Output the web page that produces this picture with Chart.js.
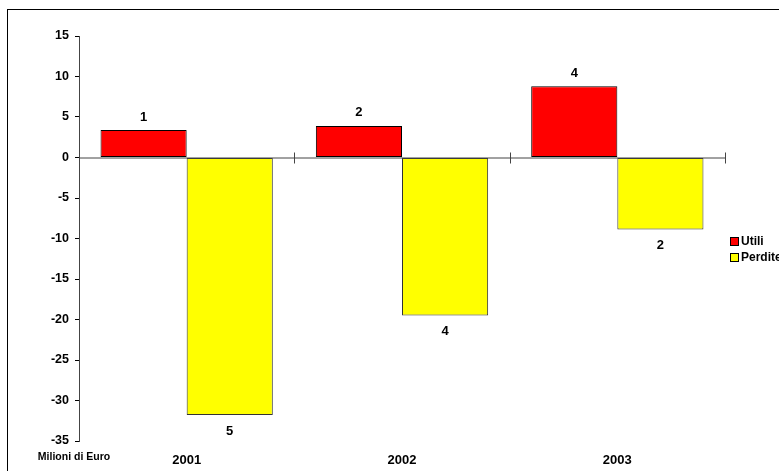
<!DOCTYPE html>
<html>
<head>
<meta charset="utf-8">
<script src="https://cdn.jsdelivr.net/npm/chart.js@4"></script>
<style>
    body { margin: 0; background: #fff; }
    #wrap { position: relative; width: 779px; height: 471px; overflow: hidden; }
    #frame { position: absolute; left: 7px; top: 9px; width: 800px; height: 500px; border: 1px solid #000; }
    canvas { position: absolute; left: 0; top: 0; }
</style>
</head>
<body>
<div id="wrap">
    <div id="frame"></div>
    <canvas id="chart" width="779" height="471"></canvas>
</div>
<script>
const Years = ['2001', '2002', '2003'];
const Utili = [3.4, 3.9, 8.8];
const Perdite = [-31.8, -19.5, -8.9];
// numbers printed over / under the bars
const UtiliLabels = ['1', '2', '4'];
const PerditeLabels = ['5', '4', '2'];
const YTicks = [15, 10, 5, 0, -5, -10, -15, -20, -25, -30, -35];

const FONT = 'Liberation Sans, Arial, sans-serif';

// axis line at zero, value labels, legend and unit caption
const extras = {
    id: 'extras',
    afterDatasetsDraw(chart) {
        const ctx = chart.ctx;
        const area = chart.chartArea;
        const y = chart.scales.y;
        const y0 = y.getPixelForValue(0);

        ctx.save();
        ctx.strokeStyle = '#444';
        ctx.lineWidth = 1;
        ctx.beginPath();
        ctx.moveTo(area.left, y0 + 0.5);
        ctx.lineTo(area.right, y0 + 0.5);
        const step = (area.right - area.left) / Years.length;
        for (let i = 0; i <= Years.length; i++) {
            const px = Math.round(area.left + i * step) + 0.5;
            ctx.moveTo(px, y0 - 5);
            ctx.lineTo(px, y0 + 6);
        }
        ctx.stroke();

        ctx.font = 'bold 13px ' + FONT;
        ctx.fillStyle = '#000';
        ctx.textAlign = 'center';
        ctx.textBaseline = 'middle';
        chart.getDatasetMeta(0).data.forEach((bar, i) => {
            ctx.fillText(UtiliLabels[i], bar.x, bar.y - 13);
        });
        chart.getDatasetMeta(1).data.forEach((bar, i) => {
            ctx.fillText(PerditeLabels[i], bar.x, bar.y + 16);
        });

        // legend
        ctx.font = 'bold 12px ' + FONT;
        ctx.textAlign = 'left';
        chart.data.datasets.forEach((ds, i) => {
            const ly = 241 + i * 16;
            ctx.fillStyle = ds.backgroundColor;
            ctx.fillRect(730, ly - 4, 9, 9);
            ctx.strokeStyle = '#000';
            ctx.strokeRect(730.5, ly - 3.5, 8, 8);
            ctx.fillStyle = '#000';
            ctx.fillText(ds.label, 741, ly + 1);
        });

        ctx.font = 'bold 10.5px ' + FONT;
        ctx.textAlign = 'center';
        ctx.fillText('Milioni di Euro', 74, 457);
        ctx.restore();
    }
};

new Chart(document.getElementById('chart'), {
    type: 'bar',
    data: {
        labels: Years,
        datasets: [{
            label: 'Utili',
            data: Utili,
            backgroundColor: '#ff0000',
            borderColor: '#000',
            borderWidth: 1,
            borderSkipped: false
        }, {
            label: 'Perdite',
            data: Perdite,
            backgroundColor: '#ffff00',
            borderColor: '#333',
            borderWidth: 1,
            borderSkipped: false
        }]
    },
    options: {
        responsive: false,
        animation: false,
        layout: { padding: { left: 0, top: 36, right: 54, bottom: 0 } },
        datasets: { bar: { categoryPercentage: 0.8, barPercentage: 1.0 } },
        plugins: { legend: { display: false }, tooltip: { enabled: false } },
        scales: {
            x: {
                grid: { display: false, drawTicks: false },
                border: { display: false },
                ticks: {
                    padding: 12,
                    color: '#000',
                    font: { family: FONT, size: 13, weight: 'bold' }
                },
                afterFit(scale) { scale.height = 30; }
            },
            y: {
                min: -35,
                max: 15,
                afterBuildTicks(scale) { scale.ticks = YTicks.map(v => ({ value: v })); },
                grid: { drawOnChartArea: false, tickLength: 4, color: '#000' },
                border: { display: true, color: '#444' },
                ticks: {
                    padding: 6,
                    color: '#000',
                    font: { family: FONT, size: 12.5, weight: 'bold' }
                },
                afterFit(scale) { scale.width = 79; }
            }
        }
    },
    plugins: [extras]
});
</script>
</body>
</html>
